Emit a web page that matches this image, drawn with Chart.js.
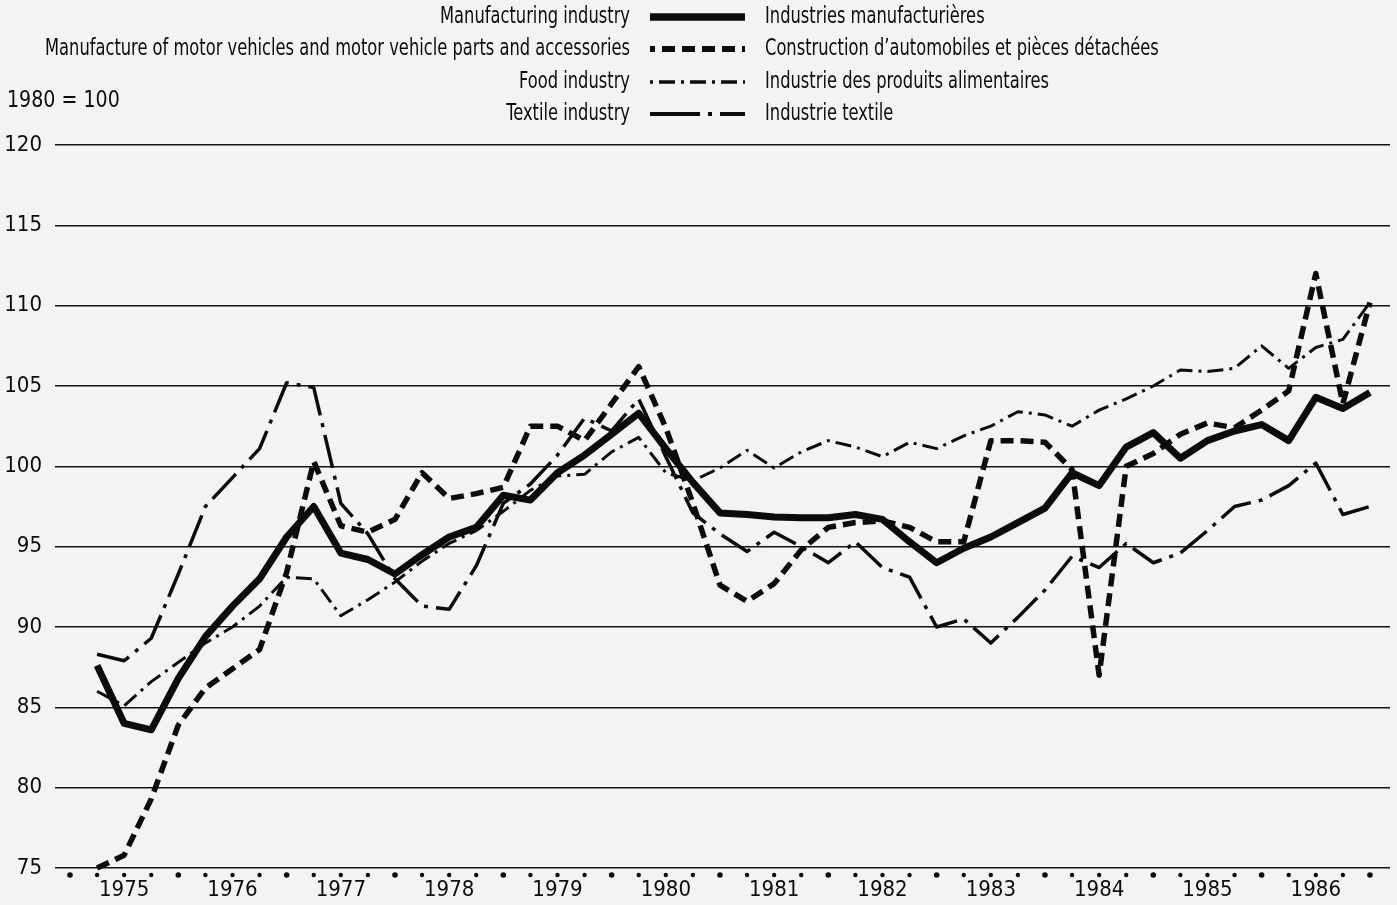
<!DOCTYPE html>
<html><head><meta charset="utf-8">
<script src="https://cdn.jsdelivr.net/npm/chart.js@4/dist/chart.umd.min.js"></script>
<style>
html,body{margin:0;padding:0;background:#f3f3f3;}
#wrap{position:relative;width:1397px;height:905px;}
canvas{display:block;}
</style></head><body>
<div id="wrap"><canvas id="c" width="1397" height="905"></canvas></div>
<script>
// Quarterly observations, 1975 Q1 .. 1986 Q4 (plotted at the quarter dots)
const years = ['1975','1976','1977','1978','1979','1980','1981','1982','1983','1984','1985','1986'];
const quarters = [];
years.forEach(y => { for (let q = 1; q <= 4; q++) quarters.push(y + ' Q' + q); });

const manufacturing = [87.6,84.0,83.6,86.8, 89.4,91.3,93.0,95.6, 97.5,94.6,94.2,93.3,
  94.5,95.6,96.2,98.2, 97.9,99.6,100.7,102.0, 103.3,101.1,99.0,97.1,
  97.0,96.85,96.8,96.8, 97.0,96.7,95.3,94.0, 94.9,95.6,96.5,97.4,
  99.6,98.8,101.2,102.1, 100.5,101.6,102.2,102.6, 101.6,104.3,103.6,104.6];
const motorVehicles = [75.0,75.8,79.3,83.9, 86.2,87.4,88.6,93.4, 100.3,96.3,95.9,96.7,
  99.6,98.0,98.3,98.7, 102.5,102.5,101.6,103.9, 106.2,102.4,97.7,92.6,
  91.6,92.7,94.8,96.2, 96.5,96.6,96.2,95.3, 95.3,101.6,101.6,101.5,
  99.8,87.0,100.0,100.8, 102.0,102.7,102.4,103.5, 104.7,112.0,103.9,110.2];
const food = [86.0,85.1,86.6,87.8, 89.0,90.0,91.3,93.1, 93.0,90.7,91.7,92.8,
  94.1,95.2,96.0,97.2, 98.5,99.4,99.5,100.9, 101.8,99.6,99.1,99.9,
  101.0,99.9,100.9,101.6, 101.2,100.6,101.5,101.1, 101.9,102.5,103.4,103.2,
  102.5,103.5,104.2,105.0, 106.0,105.9,106.1,107.5, 106.1,107.4,107.9,110.2];
const textile = [88.3,87.9,89.3,93.3, 97.5,99.3,101.1,105.2, 104.9,97.7,95.8,93.0,
  91.3,91.1,93.8,97.7, 98.9,100.7,103.0,102.2, 104.2,100.6,97.1,95.8,
  94.7,95.9,95.0,94.0, 95.3,93.7,93.1,90.0, 90.5,89.0,90.6,92.3,
  94.4,93.7,95.2,94.0, 94.6,96.0,97.5,97.9, 98.8,100.2,97.0,97.5];
const yTicks = [75,80,85,90,95,100,105,110,115,120];
const labelsEn = ['Manufacturing industry','Manufacture of motor vehicles and motor vehicle parts and accessories','Food industry','Textile industry'];
const labelsFr = ['Industries manufacturières','Construction d\u2019automobiles et pièces détachées','Industrie des produits alimentaires','Industrie textile'];
const baseNote = '1980 = 100';

const FONT = "'Liberation Sans Narrow','Arial Narrow','DejaVu Sans Condensed',sans-serif";
const INK = '#0c0c0c';
const toPts = arr => arr.map((v, i) => ({x: i + 1, y: v}));

function condensedText(ctx, text, x, y, align, sx) {
  ctx.save();
  ctx.translate(x, y);
  ctx.scale(sx, 1);
  ctx.textAlign = align;
  ctx.fillText(text, 0, 0);
  ctx.restore();
}

const legendPlugin = {
  id: 'bilingualLegend',
  afterDraw(chart) {
    const ctx = chart.ctx;
    const rows = [17, 49, 82, 114];
    ctx.save();
    ctx.fillStyle = INK;
    ctx.font = '23px ' + FONT;
    ctx.textBaseline = 'middle';
    // horizontal compression so the long label spans 45..630 like the original narrow face
    const sx = Math.min(1, 585 / ctx.measureText(labelsEn[1]).width);
    chart.data.datasets.forEach((ds, i) => {
      const y = rows[i];
      condensedText(ctx, labelsEn[i], 630, y, 'right', sx);
      condensedText(ctx, labelsFr[i], 765, y, 'left', sx);
      ctx.beginPath();
      ctx.strokeStyle = INK;
      ctx.lineWidth = ds.borderWidth + 0.5;
      ctx.setLineDash(ds.legendDash || ds.borderDash || []);
      ctx.lineDashOffset = ds.legendDashOffset || 0;
      ctx.moveTo(650, y);
      ctx.lineTo(745, y);
      ctx.stroke();
    });
    ctx.setLineDash([]);
    condensedText(ctx, baseNote, 7, 101, 'left', Math.max(sx, 0.92));
    // quarter markers below the axis
    const xs = chart.scales.x;
    for (let i = 0; i <= quarters.length; i++) {
      const px = xs.getPixelForValue(i);
      ctx.beginPath();
      ctx.arc(px, 875, i % 4 === 0 ? 2.8 : 2.2, 0, Math.PI * 2);
      ctx.fill();
    }
    ctx.restore();
  }
};

new Chart(document.getElementById('c'), {
  type: 'line',
  data: {
    datasets: [
      {label: labelsEn[0], data: toPts(manufacturing), borderColor: INK, borderWidth: 7, borderDash: [], pointRadius: 0, tension: 0, borderJoinStyle: 'round', clip: false},
      {label: labelsEn[1], data: toPts(motorVehicles), borderColor: INK, borderWidth: 5.5, borderDash: [13, 7], legendDashOffset: 8, pointRadius: 0, tension: 0, borderJoinStyle: 'round', clip: false},
      {label: labelsEn[2], data: toPts(food), borderColor: INK, borderWidth: 3, borderDash: [16, 6, 3, 6], legendDashOffset: 22, pointRadius: 0, tension: 0, borderJoinStyle: 'round', clip: false},
      {label: labelsEn[3], data: toPts(textile), borderColor: INK, borderWidth: 3.5, borderDash: [34, 8, 4, 8], legendDash: [50, 8, 4, 8], pointRadius: 0, tension: 0, borderJoinStyle: 'round', clip: false}
    ]
  },
  options: {
    responsive: false,
    animation: false,
    layout: {padding: {top: 145, right: 7, left: 0, bottom: 0}},
    plugins: {legend: {display: false}, tooltip: {enabled: false}},
    scales: {
      x: {
        type: 'linear', min: -0.554, max: 48.74,
        grid: {display: false, drawTicks: false},
        border: {display: false},
        afterBuildTicks: s => { s.ticks = years.map((y, j) => ({value: 4 * j + 2})); },
        ticks: {autoSkip: false, maxRotation: 0, padding: 9, color: INK,
          font: {family: FONT, size: 22},
          callback: v => years[Math.round((v - 2) / 4)]},
        afterFit: s => { s.height = 37; }
      },
      y: {
        min: 75, max: 120,
        afterBuildTicks: s => { s.ticks = yTicks.map(v => ({value: v})); },
        grid: {color: '#141414', lineWidth: 1.6, drawTicks: false},
        border: {display: false},
        ticks: {padding: 13, color: INK, font: {family: FONT, size: 22}},
        afterFit: s => { s.width = 55; }
      }
    }
  },
  plugins: [legendPlugin]
});
</script>
</body></html>
